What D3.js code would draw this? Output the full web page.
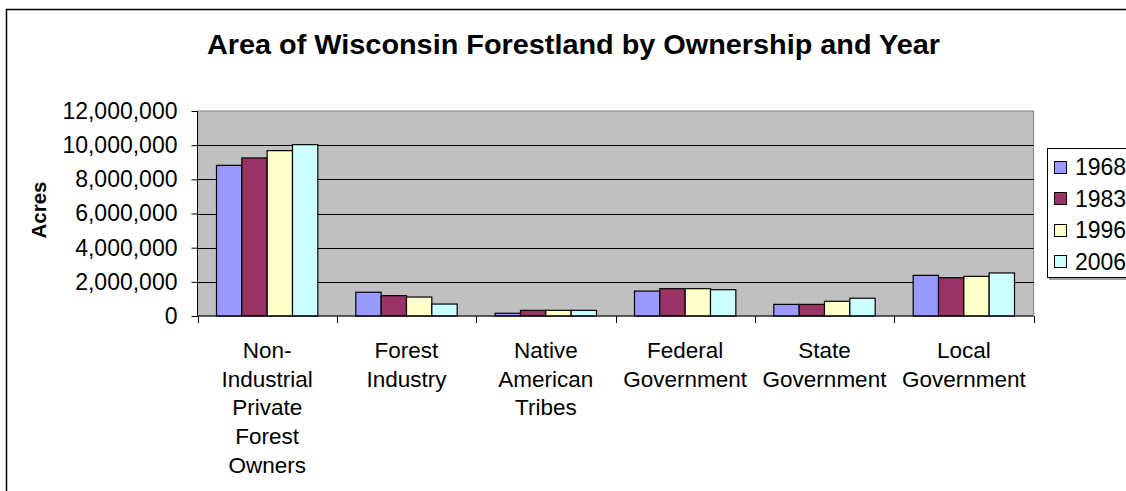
<!DOCTYPE html>
<html>
<head>
<meta charset="utf-8">
<script src="https://cdn.jsdelivr.net/npm/d3@7/dist/d3.min.js"></script>
<style>
  html, body { margin: 0; padding: 0; background: #fff; overflow: hidden; }
  svg { display: block; font-family: "Liberation Sans", Arial, sans-serif; }
</style>
</head>
<body>
<svg id="chart" width="1126" height="491"></svg>
<script>
// Ownership categories (line breaks as wrapped on the axis)
const categories = [
  "Non-\nIndustrial\nPrivate\nForest\nOwners",
  "Forest\nIndustry",
  "Native\nAmerican\nTribes",
  "Federal\nGovernment",
  "State\nGovernment",
  "Local\nGovernment"
];

// Survey years
const years = ["1968", "1983", "1996", "2006"];

// Acres per ownership class, one array per survey year
const acres1968 = [8820000, 1390000, 160000, 1460000, 680000, 2380000];
const acres1983 = [9250000, 1190000, 330000, 1600000, 680000, 2240000];
const acres1996 = [9680000, 1110000, 330000, 1600000, 860000, 2320000];
const acres2006 = [10030000, 700000, 330000, 1540000, 1040000, 2520000];

const yTicks = [0, 2000000, 4000000, 6000000, 8000000, 10000000, 12000000];
const yearColors = ["#9999FF", "#993366", "#FFFFCC", "#CCFFFF"];

const seriesValues = [acres1968, acres1983, acres1996, acres2006];

const svg = d3.select("#chart");

// Outer chart frame
svg.append("rect")
  .attr("x", 6.5).attr("y", 9.5)
  .attr("width", 1200).attr("height", 600)
  .attr("fill", "#fff").attr("stroke", "#000").attr("stroke-width", 1.5);

const plot = { left: 197.5, right: 1033.5, top: 111, bottom: 316 };

const x0 = d3.scaleBand().domain(categories).range([plot.left, plot.right]).padding(0);
const x1 = d3.scaleBand().domain(years).range([0, x0.bandwidth()]).paddingInner(0).paddingOuter(0.75);
const y = d3.scaleLinear().domain([0, 12000000]).range([plot.bottom, plot.top]);

// Plot background
svg.append("rect")
  .attr("x", plot.left).attr("y", plot.top)
  .attr("width", plot.right - plot.left).attr("height", plot.bottom - plot.top)
  .attr("fill", "#C0C0C0").attr("stroke", "#808080").attr("stroke-width", 1);

// Horizontal gridlines
svg.append("g").selectAll("line")
  .data(yTicks.filter(d => d > 0 && d < 12000000))
  .join("line")
  .attr("x1", plot.left).attr("x2", plot.right)
  .attr("y1", d => Math.round(y(d)) + 0.5).attr("y2", d => Math.round(y(d)) + 0.5)
  .attr("stroke", "#000").attr("stroke-width", 1);

// Bars
const groups = svg.append("g").selectAll("g")
  .data(categories.map((c, i) => ({ c, vals: years.map((yr, k) => ({ yr, k, v: seriesValues[k][i] })) })))
  .join("g")
  .attr("transform", d => `translate(${x0(d.c)},0)`);

groups.selectAll("rect")
  .data(d => d.vals)
  .join("rect")
  .attr("x", d => x1(d.yr))
  .attr("y", d => y(d.v))
  .attr("width", x1.bandwidth())
  .attr("height", d => y(0) - y(d.v))
  .attr("fill", d => yearColors[d.k])
  .attr("stroke", "#000").attr("stroke-width", 1.2);

// Y axis
const yAxis = svg.append("g")
  .attr("transform", `translate(${plot.left},0)`)
  .call(d3.axisLeft(y).tickValues(yTicks).tickSize(6).tickPadding(14).tickFormat(d3.format(",")));
yAxis.select(".domain").attr("stroke", "#000").attr("d", `M0,${plot.top}V${plot.bottom}`);
yAxis.selectAll(".tick line").attr("stroke", "#000");
yAxis.selectAll("text")
  .attr("font-size", 23).attr("fill", "#000")
  .attr("font-family", "Liberation Sans, Arial, sans-serif");

// X axis line and category boundary ticks
svg.append("line")
  .attr("x1", plot.left).attr("x2", plot.right)
  .attr("y1", plot.bottom).attr("y2", plot.bottom)
  .attr("stroke", "#000").attr("stroke-width", 1);

const boundaries = categories.map(c => x0(c)).concat([x0.range()[1]]);
svg.append("g").selectAll("line")
  .data(boundaries)
  .join("line")
  .attr("x1", d => Math.round(d) + 0.5).attr("x2", d => Math.round(d) + 0.5)
  .attr("y1", plot.bottom).attr("y2", plot.bottom + 7)
  .attr("stroke", "#000").attr("stroke-width", 1);

// Category labels
const lineH = 28.7;
svg.append("g").selectAll("text")
  .data(categories)
  .join("text")
  .attr("text-anchor", "middle")
  .attr("font-size", 22.5)
  .attr("fill", "#000")
  .each(function (c) {
    const t = d3.select(this);
    c.split("\n").forEach((ln, i) => {
      t.append("tspan")
        .attr("x", x0(c) + x0.bandwidth() / 2)
        .attr("y", 358 + i * lineH)
        .text(ln);
    });
  });

// Title
svg.append("text")
  .attr("x", 207).attr("y", 54)
  .attr("font-size", 27.5).attr("font-weight", "bold")
  .attr("textLength", 733).attr("lengthAdjust", "spacingAndGlyphs")
  .text("Area of Wisconsin Forestland by Ownership and Year");

// Y axis title
svg.append("text")
  .attr("transform", "translate(46,210) rotate(-90)")
  .attr("text-anchor", "middle")
  .attr("font-size", 20.5).attr("font-weight", "bold")
  .text("Acres");

// Legend
const legend = svg.append("g");
legend.append("line")
  .attr("x1", 1049).attr("x2", 1200)
  .attr("y1", 279).attr("y2", 279)
  .attr("stroke", "#808080").attr("stroke-width", 1.5);
legend.append("rect")
  .attr("x", 1047.5).attr("y", 148.5)
  .attr("width", 120).attr("height", 129)
  .attr("fill", "#fff").attr("stroke", "#000").attr("stroke-width", 1);

const legendY = d3.scalePoint().domain(years).range([167, 261.5]);
const items = legend.selectAll("g.item")
  .data(years)
  .join("g").attr("class", "item");
items.append("rect")
  .attr("x", 1054.5)
  .attr("y", d => Math.round(legendY(d) - 6.5) + 0.5)
  .attr("width", 12).attr("height", 12)
  .attr("fill", (d, i) => yearColors[i])
  .attr("stroke", "#000").attr("stroke-width", 1);
items.append("text")
  .attr("x", 1075)
  .attr("y", d => legendY(d) + 8)
  .attr("font-size", 23)
  .text(d => d);
</script>
</body>
</html>
